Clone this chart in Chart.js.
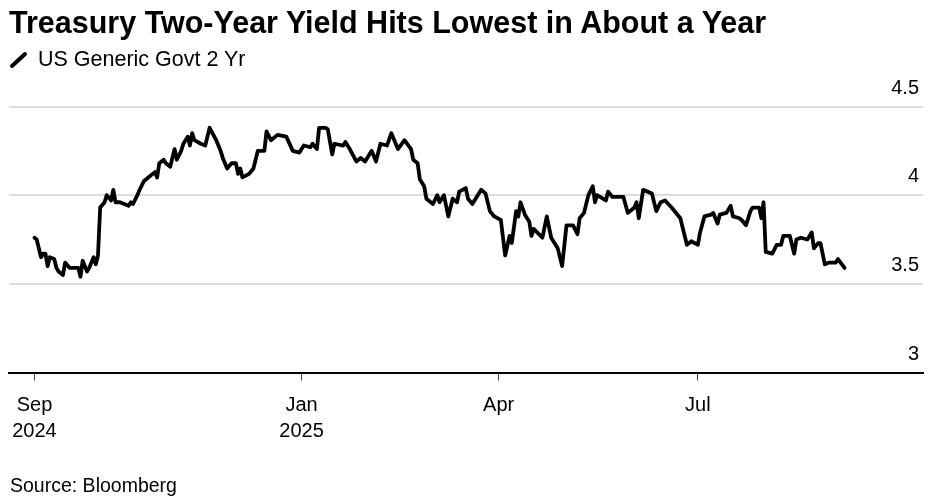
<!DOCTYPE html>
<html>
<head>
<meta charset="utf-8">
<script src="https://cdn.jsdelivr.net/npm/chart.js@4.4.1/dist/chart.umd.min.js"></script>
<style>
  body { margin: 0; background: #fff; font-family: "Liberation Sans", Arial, sans-serif; color: #000; }
  #wrap { position: relative; width: 933px; height: 502px; overflow: hidden; }
  #chart { position: absolute; left: 0; top: 0; }
  .txt { position: absolute; white-space: nowrap; line-height: 1; }
  #title { left: 9px; top: 7.3px; font-size: 30.5px; font-weight: bold; }
  #subtitle { left: 38px; top: 48.5px; font-size: 21.5px; }
  #source { left: 10px; top: 476.2px; font-size: 19.5px; }
  #icon { position: absolute; left: 0; top: 0; }
</style>
</head>
<body>
<div id="wrap">
  <canvas id="chart" width="933" height="502"></canvas>
  <div class="txt" id="title">Treasury Two-Year Yield Hits Lowest in About a Year</div>
  <svg id="icon" width="40" height="80"><line x1="12" y1="66" x2="25" y2="54" stroke="#000" stroke-width="4" stroke-linecap="round"/></svg>
  <div class="txt" id="subtitle">US Generic Govt 2 Yr</div>
  <div class="txt" id="source">Source: Bloomberg</div>
</div>
<script>
const dates = [
  '2024-09-01','2024-09-02','2024-09-04','2024-09-05','2024-09-06','2024-09-07','2024-09-08','2024-09-10','2024-09-11','2024-09-12',
  '2024-09-14','2024-09-15','2024-09-17','2024-09-19','2024-09-21','2024-09-22','2024-09-23','2024-09-25','2024-09-26','2024-09-28',
  '2024-09-29','2024-09-30','2024-10-01','2024-10-03','2024-10-04','2024-10-06','2024-10-07','2024-10-08','2024-10-10','2024-10-14',
  '2024-10-15','2024-10-16','2024-10-18','2024-10-19','2024-10-21','2024-10-22','2024-10-25','2024-10-26','2024-10-27','2024-10-28',
  '2024-10-30','2024-10-31','2024-11-02','2024-11-04','2024-11-05','2024-11-07','2024-11-08','2024-11-10','2024-11-11','2024-11-12',
  '2024-11-13','2024-11-16','2024-11-18','2024-11-20','2024-11-23','2024-11-25','2024-11-26','2024-11-28','2024-11-30','2024-12-02',
  '2024-12-03','2024-12-04','2024-12-05','2024-12-08','2024-12-10','2024-12-12','2024-12-15','2024-12-16','2024-12-18','2024-12-21',
  '2024-12-25','2024-12-28','2024-12-31','2025-01-02','2025-01-05','2025-01-06','2025-01-08','2025-01-09','2025-01-12','2025-01-13',
  '2025-01-15','2025-01-16','2025-01-20','2025-01-21','2025-01-23','2025-01-26','2025-01-28','2025-01-30','2025-02-02','2025-02-04',
  '2025-02-06','2025-02-09','2025-02-11','2025-02-14','2025-02-17','2025-02-20','2025-02-21','2025-02-23','2025-02-24','2025-02-26',
  '2025-02-27','2025-03-02','2025-03-04','2025-03-05','2025-03-07','2025-03-09','2025-03-11','2025-03-13','2025-03-14','2025-03-17',
  '2025-03-18','2025-03-20','2025-03-24','2025-03-26','2025-03-28','2025-03-30','2025-04-02','2025-04-04','2025-04-06','2025-04-07',
  '2025-04-09','2025-04-10','2025-04-11','2025-04-13','2025-04-15','2025-04-16','2025-04-17','2025-04-21','2025-04-23','2025-04-25',
  '2025-04-28','2025-04-30','2025-05-02','2025-05-05','2025-05-07','2025-05-08','2025-05-10','2025-05-12','2025-05-14','2025-05-15',
  '2025-05-16','2025-05-20','2025-05-21','2025-05-23','2025-05-28','2025-05-30','2025-06-02','2025-06-03','2025-06-04','2025-06-06',
  '2025-06-08','2025-06-10','2025-06-12','2025-06-14','2025-06-16','2025-06-19','2025-06-23','2025-06-24','2025-06-26','2025-06-28',
  '2025-07-01','2025-07-02','2025-07-04','2025-07-07','2025-07-08','2025-07-10','2025-07-11','2025-07-14','2025-07-16','2025-07-17',
  '2025-07-20','2025-07-21','2025-07-23','2025-07-25','2025-07-26','2025-07-29','2025-07-30','2025-07-31','2025-08-01','2025-08-04',
  '2025-08-06','2025-08-08','2025-08-09','2025-08-11','2025-08-12','2025-08-14','2025-08-15','2025-08-17','2025-08-20','2025-08-22',
  '2025-08-23','2025-08-25','2025-08-26','2025-08-28','2025-08-30','2025-09-02','2025-09-03','2025-09-06'
];
const yields = [
  3.76,3.75,3.65,3.67,3.67,3.60,3.65,3.64,3.59,3.57,
  3.55,3.62,3.59,3.59,3.59,3.54,3.63,3.57,3.59,3.65,
  3.61,3.66,3.93,3.96,4.00,3.97,4.03,3.96,3.96,3.94,
  3.96,3.95,4.00,4.03,4.08,4.09,4.12,4.13,4.10,4.18,
  4.20,4.18,4.16,4.26,4.20,4.25,4.29,4.33,4.28,4.35,
  4.31,4.29,4.28,4.38,4.31,4.25,4.21,4.15,4.18,4.18,
  4.12,4.15,4.10,4.12,4.15,4.25,4.25,4.36,4.31,4.34,
  4.33,4.25,4.24,4.28,4.27,4.29,4.26,4.38,4.38,4.37,
  4.23,4.29,4.28,4.30,4.26,4.19,4.21,4.19,4.25,4.19,
  4.29,4.28,4.35,4.26,4.31,4.26,4.20,4.18,4.09,4.05,
  3.98,3.95,4.00,3.96,4.00,3.88,3.98,3.96,4.02,4.04,
  3.98,3.95,4.03,4.01,3.91,3.88,3.86,3.66,3.77,3.73,
  3.91,3.88,3.96,3.89,3.85,3.77,3.81,3.76,3.88,3.76,
  3.70,3.60,3.83,3.83,3.78,3.87,3.90,4.00,4.05,3.96,
  4.00,3.97,4.02,3.99,3.99,3.90,3.93,3.96,3.87,4.03,
  4.02,4.01,3.91,3.96,3.97,3.93,3.87,3.82,3.72,3.74,
  3.72,3.79,3.88,3.89,3.90,3.84,3.89,3.90,3.94,3.88,
  3.87,3.86,3.83,3.91,3.93,3.93,3.87,3.96,3.68,3.67,
  3.72,3.72,3.77,3.77,3.77,3.67,3.75,3.76,3.75,3.79,
  3.70,3.73,3.73,3.61,3.62,3.62,3.64,3.59
];
const tickDates = ['2024-09-01', '2025-01-01', '2025-04-01', '2025-07-01'];
const tickLabels = [['Sep', '2024'], ['Jan', '2025'], ['Apr'], ['Jul']];
const yTicks = [3, 3.5, 4, 4.5];
const yTickLabels = ['3', '3.5', '4', '4.5'];

Chart.defaults.font.family = '"Liberation Sans", Arial, sans-serif';
Chart.defaults.color = '#000';

const points = dates.map((d, i) => ({ x: Date.parse(d), y: yields[i] }));

new Chart(document.getElementById('chart').getContext('2d'), {
  type: 'line',
  data: {
    datasets: [{
      data: points,
      borderColor: '#000',
      borderWidth: 3.8,
      borderJoinStyle: 'round',
      borderCapStyle: 'round',
      pointRadius: 0,
      tension: 0
    }]
  },
  options: {
    responsive: false,
    animation: false,
    layout: { padding: { left: 9, right: 10, top: 106.5, bottom: 0 } },
    plugins: { legend: { display: false }, tooltip: { enabled: false } },
    scales: {
      x: {
        type: 'linear',
        min: Date.UTC(2024, 7, 20, 11, 30),
        max: Date.UTC(2025, 9, 11, 20),
        afterBuildTicks: (s) => { s.ticks = tickDates.map(d => ({ value: Date.parse(d) })); },
        afterFit: (s) => { s.height = 129.5; },
        grid: { display: true, drawOnChartArea: false, drawTicks: true, tickLength: 8, color: '#444', lineWidth: 1 },
        border: { display: true, color: '#000', width: 2 },
        ticks: {
          autoSkip: false, maxRotation: 0, padding: 12,
          font: { size: 20, lineHeight: 1.3 },
          callback: (v, i) => tickLabels[i]
        }
      },
      y: {
        position: 'right',
        min: 3,
        max: 4.5,
        afterBuildTicks: (s) => { s.ticks = yTicks.map(v => ({ value: v })); },
        afterFit: (s) => { s.width = 0; },
        grid: { drawTicks: false, lineWidth: 2, color: (c) => c.tick && c.tick.value === 3 ? 'rgba(0,0,0,0)' : '#dcdcdc' },
        border: { display: false },
        ticks: {
          mirror: true, crossAlign: 'near', padding: -4, labelOffset: -18.5,
          font: { size: 20 },
          callback: (v, i) => yTickLabels[i]
        }
      }
    }
  }
});
</script>
</body>
</html>
